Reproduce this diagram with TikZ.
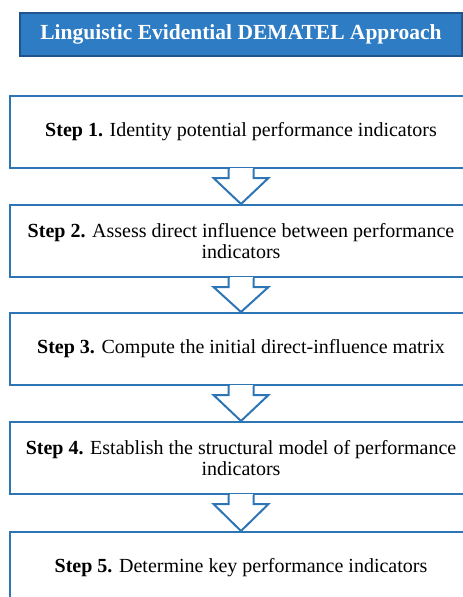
\documentclass[tikz,border=0pt]{standalone}
\usepackage{fontspec}
\setmainfont{Liberation Serif}
\usetikzlibrary{calc}
\definecolor{stepblue}{RGB}{46,117,182}
\definecolor{titlefill}{RGB}{46,124,196}
\definecolor{titleedge}{RGB}{31,85,140}
\begin{document}
\begin{tikzpicture}[x=1pt,y=1pt,
  titlebox/.style={draw=titleedge,line width=1.4pt,fill=titlefill,text=white,
    minimum width=442pt,minimum height=43pt,inner sep=0pt,
    font=\fontsize{21.5}{24}\selectfont\bfseries},
  stepbox/.style={draw=stepblue,line width=2pt,fill=white,
    minimum width=462pt,minimum height=72pt,inner sep=0pt,align=center,
    font=\fontsize{20}{21}\selectfont},
  flowarrow/.style={draw=stepblue,line width=2pt,line join=miter}]
\useasboundingbox (0,0) rectangle (463,-597);
\begin{scope}
\clip (0,0) rectangle (463,-597);
\node[titlebox] (title) at (241,-34.5) {Linguistic Evidential DEMATEL Approach};
\node[stepbox] (s1) at (241,-132) {\textbf{Step 1.} Identity potential performance indicators};
\node[stepbox] (s2) at (241,-241) {\textbf{Step 2.} Assess direct influence between performance\\indicators};
\node[stepbox] (s3) at (241,-349) {\textbf{Step 3.} Compute the initial direct-influence matrix};
\node[stepbox] (s4) at (241,-458) {\textbf{Step 4.} Establish the structural model of performance\\indicators};
\node[stepbox] (s5) at (241,-568) {\textbf{Step 5.} Determine key performance indicators};
\foreach \a/\b in {s1/s2,s2/s3,s3/s4,s4/s5}{
  \fill[white] ($(\a.south)+(-11.5,1.2)$) rectangle ($(\a.south)+(11.5,-9)$);
  \draw[flowarrow] ($(\a.south)+(-12.5,0)$) -- ++(0,-9) -- ++(-15,0) -- (\b.north)
    -- ($(\a.south)+(27.5,-9)$) -- ++(-15,0) -- ++(0,9);
}
\end{scope}
\end{tikzpicture}
\end{document}
